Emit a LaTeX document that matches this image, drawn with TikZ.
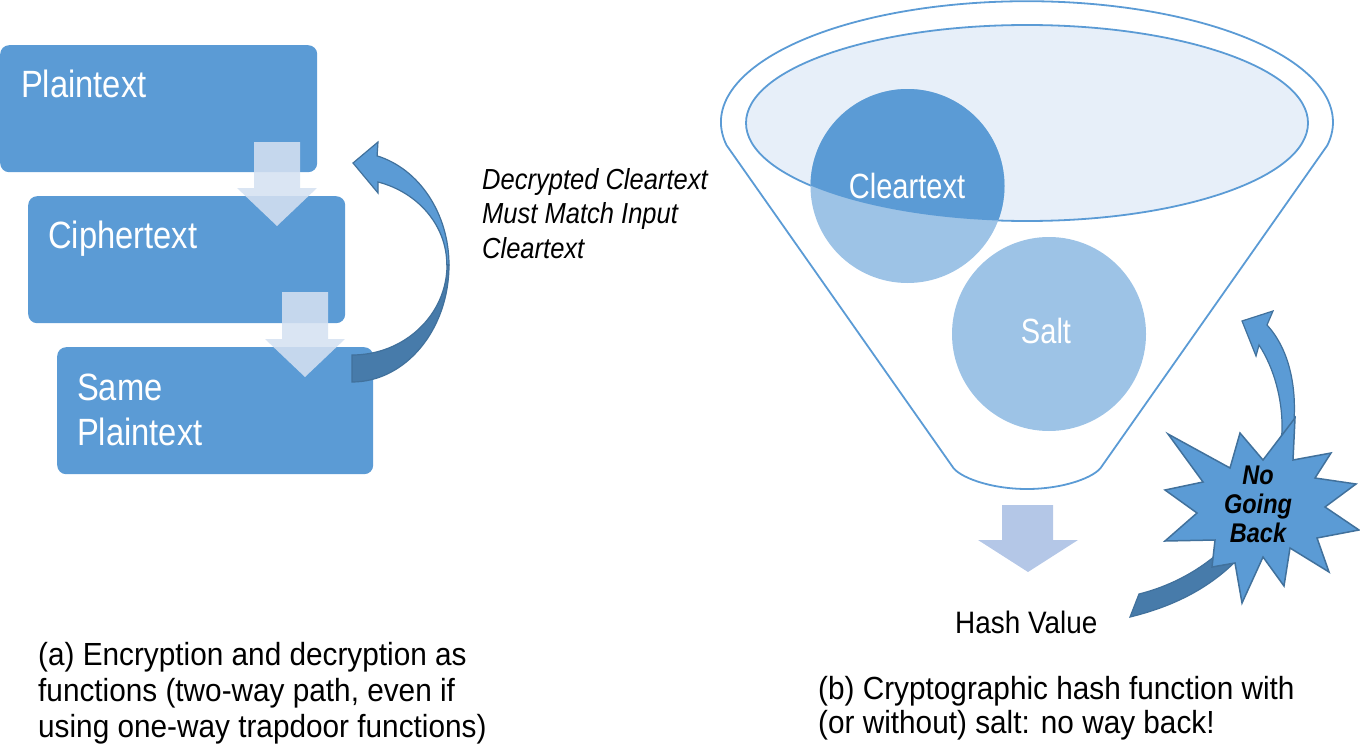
\documentclass[tikz,border=0pt]{standalone}
\usepackage{fontspec}
\setmainfont{Liberation Sans}
\newfontfamily\boxfont{Liberation Sans}[FakeStretch=0.86]
\newfontfamily\circfont{Liberation Sans}[FakeStretch=0.83]
\newfontfamily\capfont{Liberation Sans}[FakeStretch=0.93]
\newfontfamily\hashfont{Liberation Sans}[FakeStretch=0.9]
\newfontfamily\notefont{Liberation Sans}[FakeStretch=0.88]
\newfontfamily\starfont{Liberation Sans}[FakeStretch=0.87]
\definecolor{boxblue}{RGB}{91,155,213}
\definecolor{lightarrow}{RGB}{213,225,241}
\definecolor{hasharrow}{RGB}{180,199,231}
\definecolor{rimfill}{RGB}{231,239,249}
\definecolor{circlight}{RGB}{157,195,230}
\definecolor{edgeblue}{RGB}{65,113,156}
\definecolor{backblue}{RGB}{71,123,170}
\begin{document}
\begin{tikzpicture}[x=1pt,y=-1pt,
  box/.style={fill=boxblue, rounded corners=9pt, minimum width=317pt, minimum height=127pt, anchor=north west, inner sep=0pt},
  boxtext/.style={anchor=base west, inner sep=0pt, text=white, font=\boxfont\fontsize{38}{45}\selectfont},
  circtext/.style={anchor=base, inner sep=0pt, text=white, font=\circfont\fontsize{35}{40}\selectfont},
  captext/.style={anchor=base west, inner sep=0pt, font=\capfont\fontsize{32}{36}\selectfont},
  notetext/.style={anchor=base west, inner sep=0pt, font=\notefont\itshape\fontsize{29}{34}\selectfont},
  startext/.style={anchor=base, inner sep=0pt, font=\starfont\bfseries\itshape\fontsize{27}{30}\selectfont},
  lightarr/.style={fill=lightarrow, fill opacity=0.87},
  frontarr/.style={fill=boxblue, draw=edgeblue, line width=1.2pt},
  backarr/.style={fill=backblue, draw=edgeblue, line width=1.2pt},
  funnelline/.style={draw=boxblue, line width=1.8pt}
]
\useasboundingbox (0,0) rectangle (1360,752);

% ---------- left: boxes ----------
\node[box] (b1) at (0,45) {};
\node[box] (b2) at (28,196) {};
\node[box, minimum width=316pt] (b3) at (57,347) {};
\node[boxtext] (t1) at (21,97) {Plaintext};
\node[boxtext] (t2) at (48,248) {Ciphertext};
\node[boxtext] (t3a) at (77,400) {Same};
\node[boxtext] (t3b) at (77,445) {Plaintext};

% down arrows
\path[lightarr] (254,142) -- (300,142) -- (300,188) -- (317,188) -- (277,226) -- (237,188) -- (254,188) -- cycle;
\path[lightarr] (282,292) -- (328,292) -- (328,339) -- (345,339) -- (305,377) -- (265,339) -- (282,339) -- cycle;

% curved return arrow
\path[backarr] (447,265) arc[start angle=0, end angle=90, x radius=95, y radius=90]
  -- (352,382) arc[start angle=90, end angle=0, x radius=97, y radius=117] -- cycle;
\path[frontarr] (378,142) -- (353,163) -- (378,193) -- (378,182)
  arc[start angle=-74, end angle=0, x radius=95, y radius=86]
  -- (449,265) arc[start angle=0, end angle=-75, x radius=97, y radius=113] -- cycle;

\node[notetext] (n1) at (482,189) {Decrypted Cleartext};
\node[notetext] (n2) at (482,223.5) {Must Match Input};
\node[notetext] (n3) at (482,258) {Cleartext};

\node[captext] (ca1) at (38,665) {(a) Encryption and decryption as};
\node[captext] (ca2) at (38,701) {functions (two-way path, even if};
\node[captext] (ca3) at (38,737) {using one-way trapdoor functions)};

% ---------- right: funnel ----------
\path[funnelline] (952,466) -- (726.6,145.3)
  arc[start angle=169, end angle=371, x radius=306, y radius=121]
  -- (1102,466) .. controls (1096,477) and (1064,489) .. (1027,489)
  .. controls (990,489) and (958,477) .. (952,466) -- cycle;
\path[funnelline, fill=rimfill] (1027,123) ellipse[x radius=281, y radius=98];

\path[fill=circlight] (907.5,186) circle[radius=97];
\begin{scope}
  \clip (1027,123) ellipse[x radius=281, y radius=98];
  \path[fill=boxblue] (907.5,186) circle[radius=97];
\end{scope}
\path[fill=circlight] (1049,334) circle[radius=97];
\node[circtext] (clr) at (907,198) {Cleartext};
\node[circtext] (salt) at (1046,343) {Salt};

% hash arrow
\path[fill=hasharrow] (1002,505) -- (1053,505) -- (1053,540) -- (1078,540) -- (1028,572) -- (978,540) -- (1002,540) -- cycle;
\node[anchor=base west, inner sep=0pt, font=\hashfont\fontsize{31}{36}\selectfont] (hv) at (955,633) {Hash Value};

% no-going-back arrow
\path[backarr] (1139,594) .. controls (1195,580) and (1250,540) .. (1274,470)
  -- (1286,470) .. controls (1262,560) and (1200,600) .. (1130,617) -- cycle;
\path[frontarr] (1285,472) -- (1293,432) .. controls (1298,390) and (1290,350) .. (1267,325)
  -- (1273,311) -- (1242,321) -- (1256,356) -- (1259,345)
  .. controls (1274,368) and (1283,400) .. (1282,432) -- (1276,472) -- cycle;

% star
\path[fill=boxblue, draw=edgeblue, line width=1.5pt]
  (1168,434) -- (1230,468) -- (1240,433) -- (1263,460) -- (1295,418) -- (1293,460)
  -- (1331,453) -- (1315,478) -- (1356,484) -- (1325,507) -- (1359,530) -- (1317,538)
  -- (1329,572) -- (1290,548) -- (1284,586) -- (1263,557) -- (1242,603) -- (1235,563)
  -- (1212,567) -- (1215,540) -- (1165,541) -- (1197,513) -- (1165,490) -- (1203,482) -- cycle;
\node[startext] (s1) at (1258,484) {No};
\node[startext] (s2) at (1258,513) {Going};
\node[startext] (s3) at (1258,542.5) {Back};

\node[captext] (cb1) at (818,699) {(b) Cryptographic hash function with};
\node[captext] (cb2) at (818,733) {(or without) salt: no way back!};
\end{tikzpicture}
\end{document}
